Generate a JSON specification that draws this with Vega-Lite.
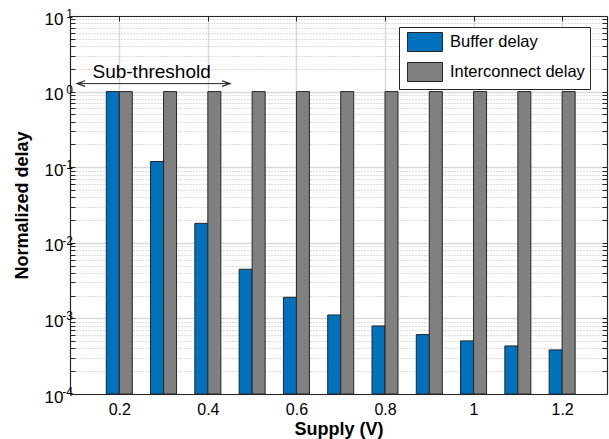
{
  "$schema": "https://vega.github.io/schema/vega-lite/v6.json",
  "width": 537,
  "height": 378,
  "autosize": {"type": "none"},
  "padding": {"left": 70, "top": 16, "right": 2, "bottom": 45},
  "background": "white",
  "datasets": {
    "delays": [
      {"supply": 0.2, "series": "Buffer delay", "delay": 1.0},
      {"supply": 0.3, "series": "Buffer delay", "delay": 0.119},
      {"supply": 0.4, "series": "Buffer delay", "delay": 0.0181},
      {"supply": 0.5, "series": "Buffer delay", "delay": 0.00447},
      {"supply": 0.6, "series": "Buffer delay", "delay": 0.0019},
      {"supply": 0.7, "series": "Buffer delay", "delay": 0.00111},
      {"supply": 0.8, "series": "Buffer delay", "delay": 0.000796},
      {"supply": 0.9, "series": "Buffer delay", "delay": 0.000611},
      {"supply": 1.0, "series": "Buffer delay", "delay": 0.000504},
      {"supply": 1.1, "series": "Buffer delay", "delay": 0.000432},
      {"supply": 1.2, "series": "Buffer delay", "delay": 0.000383},
      {"supply": 0.2, "series": "Interconnect delay", "delay": 1.0},
      {"supply": 0.3, "series": "Interconnect delay", "delay": 1.0},
      {"supply": 0.4, "series": "Interconnect delay", "delay": 1.0},
      {"supply": 0.5, "series": "Interconnect delay", "delay": 1.0},
      {"supply": 0.6, "series": "Interconnect delay", "delay": 1.0},
      {"supply": 0.7, "series": "Interconnect delay", "delay": 1.0},
      {"supply": 0.8, "series": "Interconnect delay", "delay": 1.0},
      {"supply": 0.9, "series": "Interconnect delay", "delay": 1.0},
      {"supply": 1.0, "series": "Interconnect delay", "delay": 1.0},
      {"supply": 1.1, "series": "Interconnect delay", "delay": 1.0},
      {"supply": 1.2, "series": "Interconnect delay", "delay": 1.0}
    ],
    "annotation": [
      {"x1": 0.105, "x2": 0.45, "y": 1.276, "tx": 0.273, "ty": 1.509, "label": "Sub-threshold"}
    ],
    "exponents": [
      {"value": 10, "exp": "1"},
      {"value": 1, "exp": "0"},
      {"value": 0.1, "exp": "-1"},
      {"value": 0.01, "exp": "-2"},
      {"value": 0.001, "exp": "-3"},
      {"value": 0.0001, "exp": "-4"}
    ]
  },
  "resolve": {"axis": {"x": "independent", "y": "independent"}},
  "layer": [
    {
      "data": {"name": "delays"},
      "transform": [{"filter": "datum.series == 'Buffer delay'"}],
      "mark": {"type": "bar", "width": 13, "xOffset": -6.5, "stroke": "#262626", "strokeWidth": 1, "opacity": 1},
      "encoding": {
        "x": {
          "field": "supply", "type": "quantitative",
          "scale": {"domain": [0.1, 1.29], "nice": false, "zero": false},
          "axis": {
            "orient": "bottom", "values": [0.2, 0.4, 0.6, 0.8, 1, 1.2], "format": "~g",
            "title": "Supply (V)", "titleY": 40, "titleBaseline": "alphabetic",
            "grid": true, "gridColor": "#d9d9d9", "gridWidth": 1.5,
            "tickSize": -5, "labelPadding": 12, "domainWidth": 1.2
          }
        },
        "y": {
          "field": "delay", "type": "quantitative",
          "scale": {"type": "log", "domain": [0.0001, 10], "nice": false},
          "axis": {
            "orient": "left",
            "values": [0.0001,0.0002,0.0003,0.0004,0.0005,0.0006,0.0007,0.0008,0.0009,0.001,0.002,0.003,0.004,0.005,0.006,0.007,0.008,0.009,0.01,0.02,0.03,0.04,0.05,0.06,0.07,0.08,0.09,0.1,0.2,0.3,0.4,0.5,0.6,0.7,0.8,0.9,1,2,3,4,5,6,7,8,9,10],
            "labelExpr": "abs(log(datum.value)/LN10 - round(log(datum.value)/LN10)) > 0.001 ? '' : '10'",
            "labelOverlap": false, "labelFontSize": 17, "labelOffset": 3,
            "title": "Normalized delay", "titleX": -43, "titleBaseline": "alphabetic",
            "grid": true,
            "gridDash": {"condition": {"test": "abs(log(datum.value)/LN10 - round(log(datum.value)/LN10)) < 0.001", "value": []}, "value": [1, 2]},
            "gridColor": {"condition": {"test": "abs(log(datum.value)/LN10 - round(log(datum.value)/LN10)) < 0.001", "value": "#d9d9d9"}, "value": "#bdbdbd"},
            "gridWidth": {"condition": {"test": "abs(log(datum.value)/LN10 - round(log(datum.value)/LN10)) < 0.001", "value": 1.5}, "value": 1},
            "tickSize": -5, "labelPadding": 12, "domainWidth": 1.2
          }
        },
        "y2": {"datum": 0.0001},
        "color": {
          "field": "series", "type": "nominal",
          "scale": {"domain": ["Buffer delay", "Interconnect delay"], "range": ["#0072BD", "#808080"]},
          "legend": {
            "title": null, "orient": "none", "legendX": 329, "legendY": 11,
            "fillColor": "white", "strokeColor": "#262626", "padding": 5,
            "symbolType": "M-1.84,-1L1.84,-1L1.84,1L-1.84,1Z", "symbolSize": 361, "symbolOffset": 11,
            "symbolStrokeColor": "#262626", "symbolStrokeWidth": 1, "symbolOpacity": 1,
            "labelFontSize": 16.5, "labelFont": "Liberation Sans", "labelColor": "#000",
            "labelOffset": 15, "rowPadding": 6
          }
        }
      }
    },
    {
      "data": {"name": "delays"},
      "transform": [{"filter": "datum.series == 'Interconnect delay'"}],
      "mark": {"type": "bar", "width": 13, "xOffset": 6.5, "stroke": "#262626", "strokeWidth": 1, "opacity": 1},
      "encoding": {
        "x": {
          "field": "supply", "type": "quantitative",
          "axis": {"orient": "top", "values": [0.2, 0.4, 0.6, 0.8, 1, 1.2], "labels": false, "title": null, "grid": false, "tickSize": -5, "domainWidth": 1.2}
        },
        "y": {
          "field": "delay", "type": "quantitative",
          "axis": {
            "orient": "right",
            "values": [0.0001,0.0002,0.0003,0.0004,0.0005,0.0006,0.0007,0.0008,0.0009,0.001,0.002,0.003,0.004,0.005,0.006,0.007,0.008,0.009,0.01,0.02,0.03,0.04,0.05,0.06,0.07,0.08,0.09,0.1,0.2,0.3,0.4,0.5,0.6,0.7,0.8,0.9,1,2,3,4,5,6,7,8,9,10],
            "labels": false, "title": null, "grid": false, "tickSize": -5, "domainWidth": 1.2
          }
        },
        "y2": {"datum": 0.0001},
        "color": {"field": "series", "type": "nominal"}
      }
    },
    {
      "data": {"name": "exponents"},
      "mark": {"type": "text", "align": "right", "baseline": "alphabetic", "dx": -2, "dy": 2, "fontSize": 12, "font": "Liberation Sans", "color": "#000"},
      "encoding": {
        "x": {"datum": 0.1, "type": "quantitative", "axis": null},
        "y": {"field": "value", "type": "quantitative", "axis": null},
        "text": {"field": "exp"}
      }
    },
    {
      "data": {"name": "annotation"},
      "mark": {"type": "rule", "color": "#262626", "strokeWidth": 1},
      "encoding": {
        "x": {"field": "x1", "type": "quantitative", "axis": null},
        "x2": {"field": "x2"},
        "y": {"field": "y", "type": "quantitative", "axis": null}
      }
    },
    {
      "data": {"name": "annotation"},
      "mark": {"type": "point", "shape": "M2,-0.7L0,0L2,0.7", "size": 64, "filled": false, "stroke": "#262626", "strokeWidth": 1.2, "opacity": 1},
      "encoding": {
        "x": {"field": "x1", "type": "quantitative", "axis": null},
        "y": {"field": "y", "type": "quantitative", "axis": null}
      }
    },
    {
      "data": {"name": "annotation"},
      "mark": {"type": "point", "shape": "M-2,-0.7L0,0L-2,0.7", "size": 64, "filled": false, "stroke": "#262626", "strokeWidth": 1.2, "opacity": 1},
      "encoding": {
        "x": {"field": "x2", "type": "quantitative", "axis": null},
        "y": {"field": "y", "type": "quantitative", "axis": null}
      }
    },
    {
      "data": {"name": "annotation"},
      "mark": {"type": "text", "align": "center", "baseline": "alphabetic", "fontSize": 19, "font": "Liberation Sans", "color": "#000"},
      "encoding": {
        "x": {"field": "tx", "type": "quantitative", "axis": null},
        "y": {"field": "ty", "type": "quantitative", "axis": null},
        "text": {"field": "label"}
      }
    }
  ],
  "config": {
    "font": "Liberation Sans",
    "view": {"stroke": null},
    "axis": {
      "labelFont": "Liberation Sans", "labelFontSize": 16, "labelColor": "#000",
      "titleFont": "Liberation Sans", "titleFontSize": 18, "titleFontWeight": "bold", "titleColor": "#000",
      "domainColor": "#262626", "tickColor": "#262626", "tickWidth": 1
    }
  }
}
